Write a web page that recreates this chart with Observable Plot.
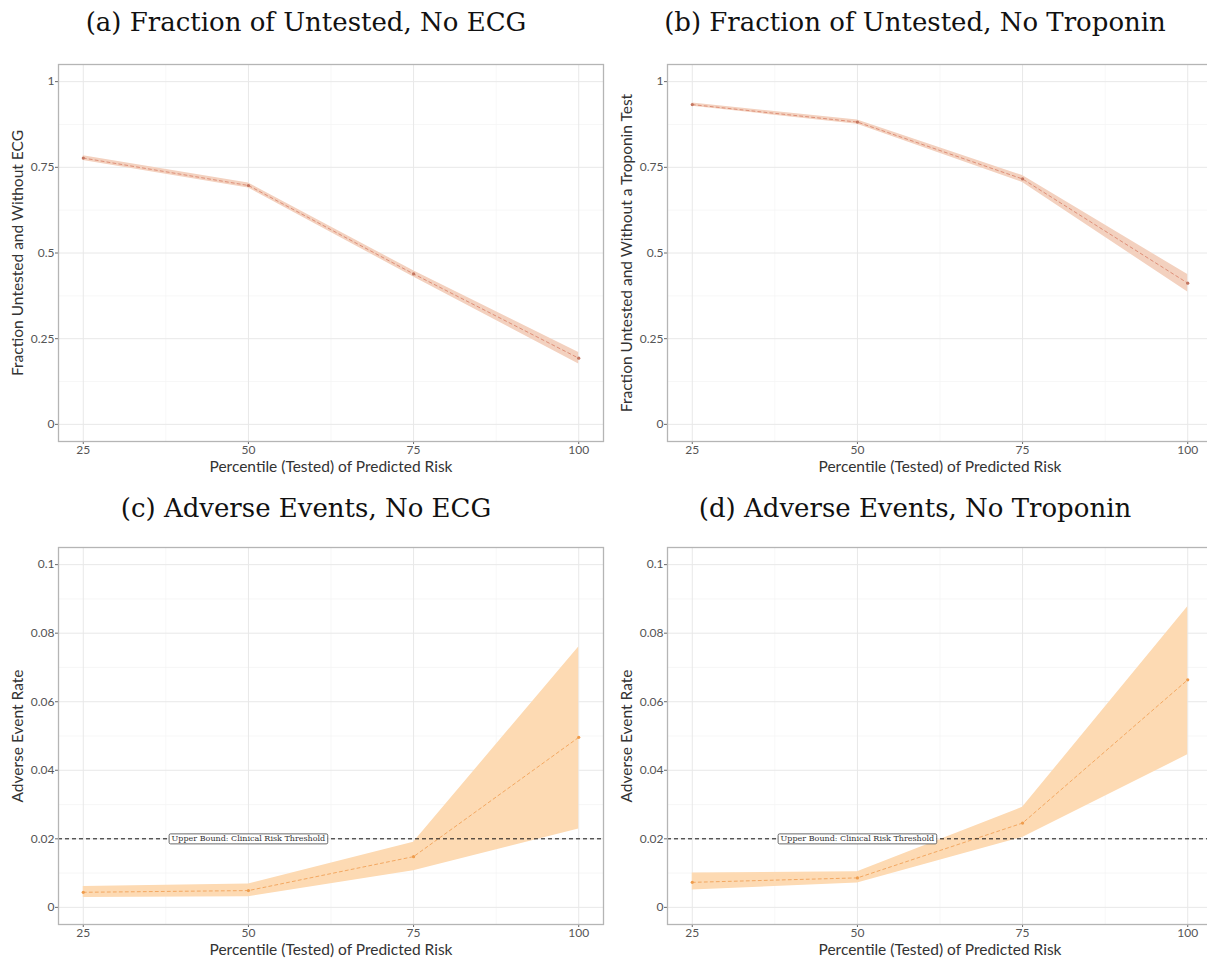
<!DOCTYPE html>
<html><head><meta charset="utf-8">
<script src="https://cdn.jsdelivr.net/npm/d3@7"></script>
<script src="https://cdn.jsdelivr.net/npm/@observablehq/plot@0.6"></script>
<style>
html,body{margin:0;padding:0;background:#fff;overflow:hidden;}
#root{position:relative;width:1207px;height:960px;overflow:hidden;background:#fff;}
.title{position:absolute;font-family:"DejaVu Serif",serif;font-size:26px;line-height:30px;color:#111;text-align:center;white-space:nowrap;}
.panel{position:absolute;}
</style></head><body><div id="root"></div>
<script>
// ---- data ----
const percentiles = [25, 50, 75, 100];
const xTicks = [25, 50, 75, 100];
const xMinor = [37.5, 62.5, 87.5];

const fracTicks = [0, 0.25, 0.5, 0.75, 1];
const fracMinor = [0.125, 0.375, 0.625, 0.875];
const rateTicks = [0, 0.02, 0.04, 0.06, 0.08, 0.1];
const rateMinor = [0.01, 0.03, 0.05, 0.07, 0.09];

const noEcgFracEst = [0.777, 0.697, 0.439, 0.193];
const noEcgFracLo  = [0.770, 0.690, 0.430, 0.176];
const noEcgFracHi  = [0.784, 0.704, 0.448, 0.210];

const noTropFracEst = [0.933, 0.882, 0.716, 0.412];
const noTropFracLo  = [0.928, 0.876, 0.706, 0.386];
const noTropFracHi  = [0.938, 0.888, 0.726, 0.437];

const noEcgRateEst = [0.0044, 0.0049, 0.0148, 0.0496];
const noEcgRateLo  = [0.0029, 0.0031, 0.0107, 0.0229];
const noEcgRateHi  = [0.0061, 0.0068, 0.0190, 0.0760];

const noTropRateEst = [0.0073, 0.0086, 0.0246, 0.0664];
const noTropRateLo  = [0.0051, 0.0071, 0.0204, 0.0445];
const noTropRateHi  = [0.0100, 0.0104, 0.0292, 0.0877];

const threshold = [0.02];
const thresholdLabel = "Upper Bound: Clinical Risk Threshold";
const xLabel = "Percentile (Tested) of Predicted Risk";

const titles = [
  "(a) Fraction of Untested, No ECG",
  "(b) Fraction of Untested, No Troponin",
  "(c) Adverse Events, No ECG",
  "(d) Adverse Events, No Troponin"
];

const topStyle = {fill: "#f3d1bf", line: "#de8f78", dot: "#c27560"};
const botStyle = {fill: "#fddab3", line: "#f3a862", dot: "#ef9c4c"};

const root = document.getElementById("root");
const AXFONT = "Lato, 'Open Sans', sans-serif";

function makePanel(opts) {
  const {est, lo, hi, yTicks, yMinor, yDomain, ylabel, style, withThreshold} = opts;
  const data = percentiles.map((p, i) => ({p, est: est[i], lo: lo[i], hi: hi[i]}));
  const marks = [
    Plot.gridX(xMinor, {stroke: "#f3f3f3", strokeOpacity: 1, strokeWidth: 0.7}),
    Plot.gridY(yMinor, {stroke: "#f3f3f3", strokeOpacity: 1, strokeWidth: 0.7}),
    Plot.gridX(xTicks, {stroke: "#e8e8e8", strokeOpacity: 1, strokeWidth: 1}),
    Plot.gridY(yTicks, {stroke: "#e8e8e8", strokeOpacity: 1, strokeWidth: 1}),
    Plot.areaY(data, {x: "p", y1: "lo", y2: "hi", fill: style.fill, fillOpacity: 1}),
    Plot.lineY(data, {x: "p", y: "est", stroke: style.line, strokeWidth: 1, strokeDasharray: "3,3"}),
    Plot.dot(data, {x: "p", y: "est", r: 1.6, fill: style.dot, stroke: null})
  ];
  if (withThreshold) {
    marks.push(Plot.ruleY(threshold, {stroke: "#111", strokeWidth: 1, strokeDasharray: "4,3"}));
    marks.push(Plot.text(threshold, {x: () => 50, y: d => d, text: () => thresholdLabel,
      fontSize: 8, fill: "#333", fontFamily: "'DejaVu Serif', serif"}));
  }
  marks.push(
    Plot.axisX(xTicks, {tickSize: 3, tickPadding: 1, stroke: "#666", fill: "#555", fontSize: 12, fontFamily: AXFONT, label: null}),
    Plot.axisY(yTicks, {tickSize: 3, tickPadding: 1, stroke: "#666", fill: "#555", fontSize: 12, fontFamily: AXFONT, label: null, tickFormat: d => String(d)}),
    Plot.text([xLabel], {frameAnchor: "bottom", dy: 26, textAnchor: "middle", lineAnchor: "middle", text: d => d, fontSize: 15.5, fill: "#333", fontFamily: AXFONT}),
    Plot.text([ylabel], {frameAnchor: "left", dx: -40, rotate: -90, textAnchor: "middle", lineAnchor: "middle", text: d => d, fontSize: 15.5, fill: "#333", fontFamily: AXFONT}),
    Plot.frame({stroke: "#b5b5b5", strokeWidth: 1.3})
  );
  return Plot.plot({
    width: 610, height: 445,
    marginLeft: 58, marginRight: 7, marginTop: 14, marginBottom: 54,
    style: {background: "transparent", overflow: "visible"},
    x: {domain: [21.25, 103.75]},
    y: {domain: yDomain},
    marks
  });
}

function place(el, left, top) {
  el.classList.add("panel");
  el.style.left = left + "px";
  el.style.top = top + "px";
  root.appendChild(el);
}

function addTitle(text, cx, cy) {
  const d = document.createElement("div");
  d.className = "title";
  d.textContent = text;
  d.style.left = (cx - 400) + "px";
  d.style.width = "800px";
  d.style.top = (cy - 15) + "px";
  root.appendChild(d);
}

const pa = makePanel({est: noEcgFracEst, lo: noEcgFracLo, hi: noEcgFracHi, yTicks: fracTicks, yMinor: fracMinor,
  yDomain: [-0.05, 1.05], ylabel: "Fraction Untested and Without ECG", style: topStyle});
const pb = makePanel({est: noTropFracEst, lo: noTropFracLo, hi: noTropFracHi, yTicks: fracTicks, yMinor: fracMinor,
  yDomain: [-0.05, 1.05], ylabel: "Fraction Untested and Without a Troponin Test", style: topStyle});
const pc = makePanel({est: noEcgRateEst, lo: noEcgRateLo, hi: noEcgRateHi, yTicks: rateTicks, yMinor: rateMinor,
  yDomain: [-0.005, 0.105], ylabel: "Adverse Event Rate", style: botStyle, withThreshold: true});
const pd = makePanel({est: noTropRateEst, lo: noTropRateLo, hi: noTropRateHi, yTicks: rateTicks, yMinor: rateMinor,
  yDomain: [-0.005, 0.105], ylabel: "Adverse Event Rate", style: botStyle, withThreshold: true});

place(pa, 0, 50);
place(pb, 609, 50);
place(pc, 0, 533);
place(pd, 609, 533);

addTitle(titles[0], 306, 22);
addTitle(titles[1], 915, 22);
addTitle(titles[2], 306, 508);
addTitle(titles[3], 915, 508);

// box around threshold labels
Array.from(document.querySelectorAll("svg text")).filter(t => t.textContent === thresholdLabel).forEach(t => {
  const b = t.getBBox();
  const r = document.createElementNS("http://www.w3.org/2000/svg", "rect");
  const tr = t.getAttribute("transform");
  r.setAttribute("x", b.x - 2.5);
  r.setAttribute("y", b.y - 0.5);
  r.setAttribute("width", b.width + 5);
  r.setAttribute("height", b.height + 1);
  r.setAttribute("rx", 1.5);
  r.setAttribute("fill", "#fff");
  r.setAttribute("stroke", "#444");
  r.setAttribute("stroke-width", 0.8);
  if (tr) r.setAttribute("transform", tr);
  t.parentNode.insertBefore(r, t);
});
</script>
</body></html>
